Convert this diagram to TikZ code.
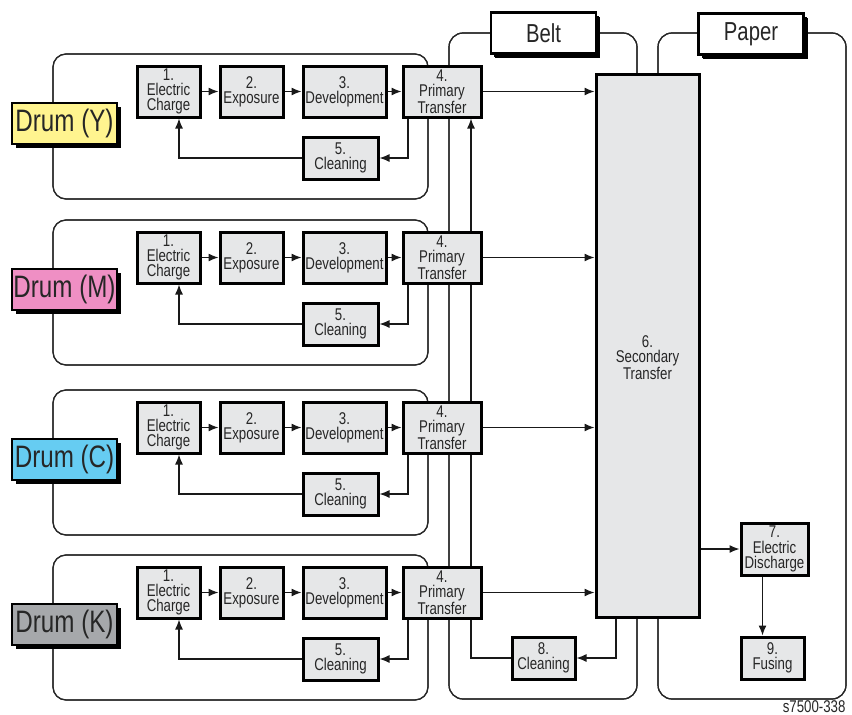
\documentclass[tikz,border=0pt]{standalone}
\usepackage{fontspec}
\setmainfont{Liberation Sans}[FakeStretch=0.78]
\usetikzlibrary{arrows.meta,shadows,backgrounds}
\definecolor{boxgray}{RGB}{230,231,232}
\definecolor{drumY}{RGB}{255,244,143}
\definecolor{drumM}{RGB}{239,143,196}
\definecolor{drumC}{RGB}{102,204,242}
\definecolor{drumK}{RGB}{166,168,171}
\begin{document}
\begin{tikzpicture}[x=1pt, y=-1pt, >={Latex[length=10pt,width=8pt]},
          font=\fontsize{17}{15.2}\selectfont,
          box/.style={draw, line width=3pt, fill=boxgray, text=black!85, align=center,
                      inner sep=0pt, minimum width=63pt, minimum height=51pt},
          small/.style={box, minimum height=42pt},
          grp/.style={draw=black!85, line width=1.2pt, rounded corners=13pt,
                      minimum width=375pt, minimum height=145pt},
          side/.style={draw=black!85, line width=1.2pt, rounded corners=14pt,
                       minimum width=188pt, minimum height=666pt},
          drum/.style={draw, line width=2pt, text=black!85, minimum width=105pt, minimum height=41pt,
                       inner sep=0pt, font=\fontsize{31}{31}\selectfont,
                       drop shadow={shadow xshift=4pt, shadow yshift=-4pt, fill=black, opacity=1}},
          tag/.style={drum, fill=white, line width=2.2pt, font=\fontsize{26}{26}\selectfont,
                      drop shadow={shadow xshift=3pt, shadow yshift=-3pt, fill=black, opacity=1}},
          line/.style={line width=1.3pt, draw=black!90}]
        \useasboundingbox (0,0) rectangle (852,715);
        % belt and paper
        \node[side] (belt) at (543,366) {};
        \node[side] (paper) at (752,366) {};
        \node[tag] (beltlbl) at (543.5,33) {Belt};
        \node[tag] (paperlbl) at (751,34) {Paper};
        \node[box, minimum width=103pt, minimum height=543pt] (sec) at (647.5,345.5) {};
        \node[text=black!85, align=center] (sectxt) at ([yshift=-12pt]sec.center) {6.\\Secondary\\Transfer};
        \node[box, minimum width=67pt, minimum height=52pt] (dis) at (774.5,549) {7.\\Electric\\Discharge};
        \node[small] (fus) at (772.5,658) {9.\\Fusing};
        \node[small] (clb) at (543.5,658) {8.\\Cleaning};
        % drum Y
        \node[grp] (gY) at (240.5,126.5) {};
        \node[drum, fill=drumY] (dY) at (64.5,123.5) {Drum (Y)};
        \node[box] (ecY) at (168.5,91.5) {1.\\Electric\\Charge};
        \node[box] (exY) at (251.5,91.5) {2.\\Exposure};
        \node[box, minimum width=83pt] (dvY) at (344.5,91.5) {3.\\Development};
        \node[box, minimum width=78pt] (ptY) at (442,91.5) {4.\\Primary\\Transfer};
        \node[small, minimum width=75pt] (clY) at (340.5,158) {5.\\Cleaning};
        % drum M
        \node[grp] (gM) at (240.5,292.5) {};
        \node[drum, fill=drumM] (dM) at (64.5,289.5) {Drum (M)};
        \node[box] (ecM) at (168.5,257.5) {1.\\Electric\\Charge};
        \node[box] (exM) at (251.5,257.5) {2.\\Exposure};
        \node[box, minimum width=83pt] (dvM) at (344.5,257.5) {3.\\Development};
        \node[box, minimum width=78pt] (ptM) at (442,257.5) {4.\\Primary\\Transfer};
        \node[small, minimum width=75pt] (clM) at (340.5,324) {5.\\Cleaning};
        % drum C
        \node[grp] (gC) at (240.5,462.5) {};
        \node[drum, fill=drumC] (dC) at (64.5,459.5) {Drum (C)};
        \node[box] (ecC) at (168.5,427.5) {1.\\Electric\\Charge};
        \node[box] (exC) at (251.5,427.5) {2.\\Exposure};
        \node[box, minimum width=83pt] (dvC) at (344.5,427.5) {3.\\Development};
        \node[box, minimum width=78pt] (ptC) at (442,427.5) {4.\\Primary\\Transfer};
        \node[small, minimum width=75pt] (clC) at (340.5,494) {5.\\Cleaning};
        % drum K
        \node[grp] (gK) at (240.5,627.5) {};
        \node[drum, fill=drumK] (dK) at (64.5,624.5) {Drum (K)};
        \node[box] (ecK) at (168.5,592.5) {1.\\Electric\\Charge};
        \node[box] (exK) at (251.5,592.5) {2.\\Exposure};
        \node[box, minimum width=83pt] (dvK) at (344.5,592.5) {3.\\Development};
        \node[box, minimum width=78pt] (ptK) at (442,592.5) {4.\\Primary\\Transfer};
        \node[small, minimum width=75pt] (clK) at (340.5,659) {5.\\Cleaning};
        \node[anchor=east, text=black!85] (fig) at (849,707) {s7500-338};
        % frames behind the boxes
        \begin{scope}[on background layer]
          \node[side] at (belt) {};
          \node[side] at (paper) {};
          \node[grp] at (gY) {};
          \node[grp] at (gM) {};
          \node[grp] at (gC) {};
          \node[grp] at (gK) {};
          \draw[line, ->] (clb.west) -| ([xshift=29pt]ptY.south);
        \end{scope}
        % process arrows
        \draw[line, ->] (ecY) -- (exY);
        \draw[line, ->] (exY) -- (dvY);
        \draw[line, ->] (dvY) -- (ptY);
        \draw[line, ->] ([xshift=-34pt]ptY.south) |- (clY.east);
        \draw[line, ->] (clY.west) -| ([xshift=10.5pt]ecY.south);
        \draw[line, ->] (ptY.east) -- (ptY.east -| sec.west);
        \draw[line, ->] (ecM) -- (exM);
        \draw[line, ->] (exM) -- (dvM);
        \draw[line, ->] (dvM) -- (ptM);
        \draw[line, ->] ([xshift=-34pt]ptM.south) |- (clM.east);
        \draw[line, ->] (clM.west) -| ([xshift=10.5pt]ecM.south);
        \draw[line, ->] (ptM.east) -- (ptM.east -| sec.west);
        \draw[line, ->] (ecC) -- (exC);
        \draw[line, ->] (exC) -- (dvC);
        \draw[line, ->] (dvC) -- (ptC);
        \draw[line, ->] ([xshift=-34pt]ptC.south) |- (clC.east);
        \draw[line, ->] (clC.west) -| ([xshift=10.5pt]ecC.south);
        \draw[line, ->] (ptC.east) -- (ptC.east -| sec.west);
        \draw[line, ->] (ecK) -- (exK);
        \draw[line, ->] (exK) -- (dvK);
        \draw[line, ->] (dvK) -- (ptK);
        \draw[line, ->] ([xshift=-34pt]ptK.south) |- (clK.east);
        \draw[line, ->] (clK.west) -| ([xshift=10.5pt]ecK.south);
        \draw[line, ->] (ptK.east) -- (ptK.east -| sec.west);
        \draw[line, ->] ([xshift=-31.5pt]sec.south) |- (clb.east);
        \draw[line, ->] (sec.east |- dis.west) -- (dis.west);
        \draw[line, ->] ([xshift=-12pt]dis.south) -- ([xshift=-12pt]dis.south |- fus.north);
      \end{tikzpicture}
\end{document}
